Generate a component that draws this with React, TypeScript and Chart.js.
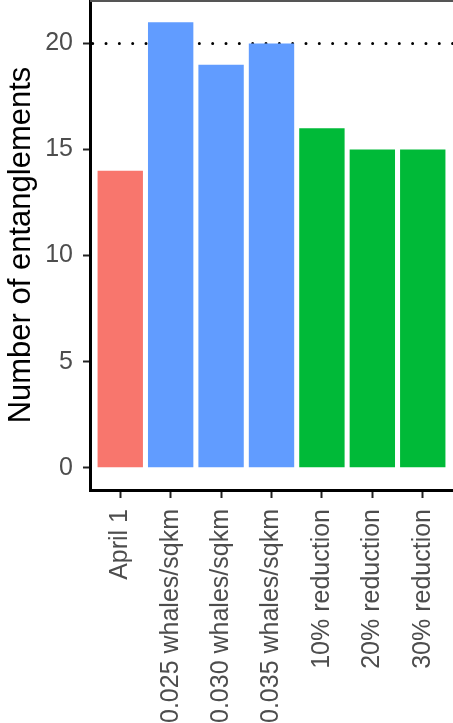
import React, { useEffect, useRef } from "react";
import { Chart, registerables } from "chart.js";

Chart.register(...registerables);

const categories = [
  "April 1",
  "0.025 whales/sqkm",
  "0.030 whales/sqkm",
  "0.035 whales/sqkm",
  "10% reduction",
  "20% reduction",
  "30% reduction",
];
const entanglements = [14, 21, 19, 20, 16, 15, 15];
const barColors = ["#F8766D", "#619CFF", "#619CFF", "#619CFF", "#00BA38", "#00BA38", "#00BA38"];
const yTickValues = [0, 5, 10, 15, 20];
const referenceValue = 20;

const FONT = "'Liberation Sans', Arial, Helvetica, sans-serif";

const refLinePlugin = {
  id: "refLine",
  beforeDatasetsDraw(chart: any) {
    const { ctx, chartArea, scales } = chart;
    const y = scales.y.getPixelForValue(referenceValue);
    ctx.save();
    ctx.strokeStyle = "#000";
    ctx.lineWidth = 3;
    ctx.lineCap = "round";
    ctx.setLineDash([0, 13.33]);
    ctx.beginPath();
    ctx.moveTo(chartArea.left + 2.7, y);
    ctx.lineTo(chartArea.right, y);
    ctx.stroke();
    ctx.restore();
  },
  afterDraw(chart: any) {
    const { ctx, chartArea } = chart;
    ctx.save();
    ctx.strokeStyle = "#555";
    ctx.lineWidth = 2;
    ctx.beginPath();
    ctx.moveTo(chartArea.left, 1);
    ctx.lineTo(chart.width, 1);
    ctx.stroke();
    ctx.restore();
  },
};

export default function App() {
  const ref = useRef<HTMLCanvasElement>(null);
  useEffect(() => {
    document.body.style.margin = "0";
    const chart = new Chart(ref.current!, {
      type: "bar",
      data: {
        datasets: [
          {
            data: entanglements.map((v, i) => ({ x: i, y: v })),
            backgroundColor: barColors,
            borderWidth: 0,
            categoryPercentage: 0.9,
            barPercentage: 1,
          },
        ],
      },
      plugins: [refLinePlugin],
      options: {
        animation: false,
        responsive: false,
        devicePixelRatio: 1,
        layout: { padding: { top: 0, left: 0, right: 0, bottom: 0 } },
        plugins: { legend: { display: false }, tooltip: { enabled: false } },
        scales: {
          x: {
            type: "linear",
            min: -0.6,
            max: 6.6,
            offset: false,
            afterBuildTicks: (scale: any) => {
              scale.ticks = categories.map((_, i) => ({ value: i }));
            },
            afterFit: (scale: any) => {
              scale.height = 233;
              scale.paddingLeft = 0;
              scale.paddingRight = 0;
            },
            ticks: {
              autoSkip: false,
              minRotation: 90,
              maxRotation: 90,
              padding: 11,
              color: "#4D4D4D",
              font: { family: FONT, size: 25 },
              callback: (v: any) => categories[v as number],
            },
            grid: {
              offset: false,
              drawOnChartArea: false,
              drawTicks: true,
              tickLength: 8,
              tickWidth: 2,
              tickColor: "#222",
            },
            border: { display: true, color: "#000", width: 3 },
          },
          y: {
            min: -1.05,
            max: 22.05,
            afterBuildTicks: (scale: any) => {
              scale.ticks = yTickValues.map((v) => ({ value: v }));
            },
            afterFit: (scale: any) => {
              scale.width = 90;
              scale.paddingTop = 0;
              scale.paddingBottom = 0;
            },
            ticks: {
              padding: 10,
              color: "#4D4D4D",
              font: { family: FONT, size: 25 },
            },
            grid: {
              drawOnChartArea: false,
              drawTicks: true,
              tickLength: 7,
              tickWidth: 2,
              tickColor: "#222",
            },
            border: { display: true, color: "#000", width: 3 },
            title: {
              display: true,
              text: "Number of entanglements",
              color: "#000",
              font: { family: FONT, size: 31 },
              padding: { top: 3, bottom: 0 },
            },
          },
        },
      },
    } as any);
    return () => chart.destroy();
  }, []);
  return (
    <div style={{ position: "fixed", left: 0, top: 0, width: 453, height: 723, background: "#fff" }}>
      <canvas ref={ref} width={453} height={723} style={{ display: "block" }} />
    </div>
  );
}
